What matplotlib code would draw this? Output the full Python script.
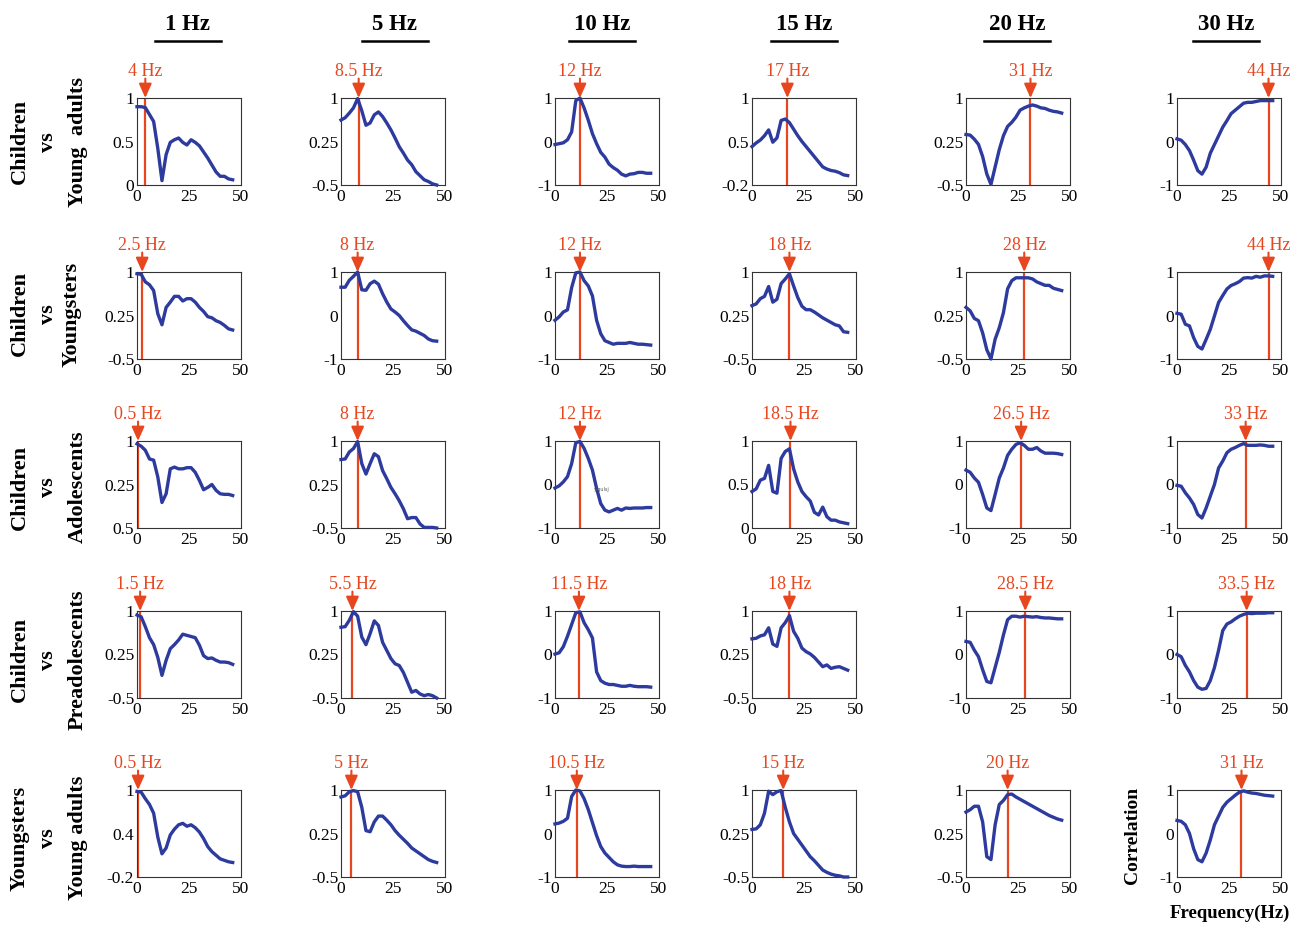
import numpy as np
import matplotlib.pyplot as plt
from matplotlib.lines import Line2D

plt.rcParams['font.family'] = 'Liberation Serif'

# frequencies (Hz) at which the correlation curves were read
freq = np.arange(0, 48, 2)

bands = ['1 Hz', '5 Hz', '10 Hz', '15 Hz', '20 Hz', '30 Hz']
pairs = [('Children', 'vs', 'Young  adults'),
         ('Children', 'vs', 'Youngsters'),
         ('Children', 'vs', 'Adolescents'),
         ('Children', 'vs', 'Preadolescents'),
         ('Youngsters', 'vs', 'Young adults')]

# frequency of best correlation, one list per row
peaks = [[4, 8.5, 12, 17, 31, 44],
         [2.5, 8, 12, 18, 28, 44],
         [0.5, 8, 12, 18.5, 26.5, 33],
         [1.5, 5.5, 11.5, 18, 28.5, 33.5],
         [0.5, 5, 10.5, 15, 20, 31]]

# lower y limit and tick labels (bottom, middle) per panel, top is always 1
ylow = [[0, -0.5, -1, -0.2, -0.5, -1],
        [-0.5, -1, -1, -0.5, -0.5, -1],
        [-0.5, -0.5, -1, 0, -1, -1],
        [-0.5, -0.5, -1, -0.5, -1, -1],
        [-0.2, -0.5, -1, -0.5, -0.5, -1]]
ylab_lo = [['0', '-0.5', '-1', '-0.2', '-0.5', '-1'],
           ['-0.5', '-1', '-1', '-0.5', '-0.5', '-1'],
           ['0.5', '-0.5', '-1', '0', '-1', '-1'],
           ['-0.5', '-0.5', '-1', '-0.5', '-1', '-1'],
           ['-0.2', '-0.5', '-1', '-0.5', '-0.5', '-1']]
ylab_mid = [['0.5', '0.25', '0', '0.5', '0.25', '0'],
            ['0.25', '0', '0', '0.25', '0.25', '0'],
            ['0.25', '0.25', '0', '0.5', '0', '0'],
            ['0.25', '0.25', '0', '0.25', '0', '0'],
            ['0.4', '0.25', '0', '0.25', '0.25', '0']]

# correlation curves, row by row (columns 1..30 Hz band)
row1 = [
    [0.90, 0.90, 0.89, 0.81, 0.73, 0.42, 0.05, 0.35, 0.49, 0.52, 0.54, 0.49, 0.46, 0.52, 0.49, 0.45, 0.38, 0.31, 0.23, 0.15, 0.10, 0.10, 0.07, 0.06],
    [0.62, 0.66, 0.74, 0.83, 0.99, 0.78, 0.53, 0.57, 0.71, 0.76, 0.68, 0.57, 0.45, 0.31, 0.16, 0.05, -0.07, -0.15, -0.27, -0.34, -0.41, -0.44, -0.48, -0.50],
    [-0.07, -0.05, -0.03, 0.04, 0.22, 0.94, 1.00, 0.77, 0.49, 0.18, -0.05, -0.25, -0.36, -0.52, -0.60, -0.66, -0.75, -0.79, -0.75, -0.74, -0.71, -0.71, -0.73, -0.73],
    [0.33, 0.38, 0.42, 0.48, 0.56, 0.39, 0.45, 0.69, 0.71, 0.66, 0.57, 0.48, 0.40, 0.33, 0.26, 0.19, 0.12, 0.05, 0.02, 0.00, -0.01, -0.03, -0.06, -0.07],
    [0.37, 0.36, 0.29, 0.20, -0.01, -0.31, -0.49, -0.19, 0.11, 0.35, 0.51, 0.58, 0.67, 0.79, 0.83, 0.86, 0.88, 0.86, 0.83, 0.82, 0.79, 0.77, 0.76, 0.74],
    [0.06, 0.03, -0.07, -0.21, -0.43, -0.67, -0.75, -0.59, -0.27, -0.07, 0.13, 0.33, 0.48, 0.64, 0.72, 0.80, 0.88, 0.90, 0.90, 0.92, 0.94, 0.94, 0.94, 0.94]]
row2 = [
    [0.97, 0.96, 0.83, 0.78, 0.68, 0.28, 0.09, 0.39, 0.48, 0.58, 0.58, 0.50, 0.54, 0.54, 0.48, 0.39, 0.32, 0.23, 0.21, 0.16, 0.13, 0.08, 0.02, 0.00],
    [0.65, 0.65, 0.81, 0.90, 1.00, 0.59, 0.58, 0.73, 0.79, 0.72, 0.50, 0.31, 0.15, 0.08, 0.00, -0.12, -0.23, -0.33, -0.36, -0.41, -0.46, -0.54, -0.58, -0.59],
    [-0.11, -0.03, 0.08, 0.13, 0.64, 0.98, 1.00, 0.80, 0.68, 0.45, -0.11, -0.42, -0.58, -0.62, -0.66, -0.64, -0.64, -0.64, -0.62, -0.64, -0.66, -0.66, -0.67, -0.68],
    [0.42, 0.45, 0.54, 0.58, 0.75, 0.48, 0.53, 0.80, 0.88, 0.97, 0.76, 0.56, 0.41, 0.35, 0.35, 0.31, 0.26, 0.21, 0.17, 0.13, 0.09, 0.07, -0.03, -0.04],
    [0.39, 0.33, 0.20, 0.16, -0.05, -0.34, -0.50, -0.16, 0.04, 0.30, 0.71, 0.85, 0.90, 0.90, 0.90, 0.90, 0.88, 0.83, 0.80, 0.77, 0.77, 0.72, 0.70, 0.68],
    [0.05, 0.03, -0.20, -0.24, -0.51, -0.71, -0.77, -0.55, -0.32, -0.01, 0.30, 0.46, 0.61, 0.69, 0.73, 0.78, 0.86, 0.87, 0.86, 0.90, 0.88, 0.91, 0.91, 0.90]]
row3 = [
    [0.95, 0.91, 0.84, 0.69, 0.67, 0.38, -0.06, 0.09, 0.52, 0.55, 0.52, 0.52, 0.54, 0.54, 0.46, 0.32, 0.16, 0.20, 0.25, 0.15, 0.09, 0.08, 0.08, 0.06],
    [0.68, 0.69, 0.81, 0.87, 0.99, 0.61, 0.43, 0.61, 0.78, 0.73, 0.49, 0.35, 0.20, 0.09, -0.03, -0.17, -0.34, -0.32, -0.32, -0.43, -0.49, -0.49, -0.49, -0.50],
    [-0.08, -0.03, 0.06, 0.18, 0.48, 0.96, 0.99, 0.83, 0.60, 0.33, -0.09, -0.44, -0.59, -0.63, -0.59, -0.55, -0.59, -0.54, -0.55, -0.54, -0.54, -0.54, -0.53, -0.53],
    [0.42, 0.45, 0.55, 0.57, 0.72, 0.42, 0.40, 0.80, 0.88, 0.91, 0.68, 0.53, 0.42, 0.36, 0.31, 0.18, 0.15, 0.24, 0.13, 0.09, 0.09, 0.07, 0.06, 0.05],
    [0.33, 0.28, 0.15, 0.05, -0.23, -0.54, -0.60, -0.23, 0.15, 0.38, 0.67, 0.81, 0.92, 0.96, 0.90, 0.81, 0.81, 0.85, 0.77, 0.72, 0.72, 0.72, 0.71, 0.69],
    [-0.02, -0.04, -0.19, -0.31, -0.46, -0.69, -0.77, -0.54, -0.27, 0.00, 0.38, 0.54, 0.73, 0.81, 0.85, 0.90, 0.94, 0.90, 0.90, 0.90, 0.91, 0.90, 0.88, 0.88]]
row4 = [
    [0.93, 0.90, 0.73, 0.54, 0.42, 0.20, -0.11, 0.15, 0.35, 0.42, 0.50, 0.60, 0.58, 0.56, 0.54, 0.41, 0.23, 0.18, 0.19, 0.15, 0.12, 0.12, 0.11, 0.08],
    [0.72, 0.73, 0.84, 0.99, 0.91, 0.55, 0.42, 0.61, 0.83, 0.75, 0.46, 0.32, 0.18, 0.09, 0.06, -0.06, -0.23, -0.40, -0.37, -0.43, -0.46, -0.44, -0.46, -0.50],
    [0.01, 0.04, 0.18, 0.42, 0.69, 0.96, 0.98, 0.73, 0.57, 0.38, -0.40, -0.60, -0.66, -0.69, -0.69, -0.71, -0.73, -0.73, -0.71, -0.73, -0.74, -0.74, -0.74, -0.75],
    [0.52, 0.53, 0.57, 0.59, 0.71, 0.43, 0.39, 0.71, 0.80, 0.92, 0.65, 0.53, 0.36, 0.30, 0.26, 0.20, 0.12, 0.04, 0.07, 0.01, 0.03, 0.04, 0.01, -0.02],
    [0.30, 0.28, 0.10, -0.05, -0.35, -0.62, -0.65, -0.30, 0.05, 0.45, 0.80, 0.88, 0.88, 0.86, 0.88, 0.87, 0.86, 0.87, 0.85, 0.84, 0.84, 0.83, 0.82, 0.82],
    [0.00, -0.05, -0.25, -0.40, -0.60, -0.75, -0.80, -0.78, -0.60, -0.30, 0.10, 0.55, 0.70, 0.75, 0.82, 0.88, 0.92, 0.95, 0.94, 0.95, 0.95, 0.95, 0.96, 0.96]]
row5 = [
    [0.98, 0.97, 0.88, 0.80, 0.68, 0.35, 0.12, 0.20, 0.38, 0.46, 0.52, 0.54, 0.50, 0.52, 0.48, 0.42, 0.33, 0.22, 0.15, 0.10, 0.05, 0.03, 0.01, 0.00],
    [0.88, 0.90, 0.97, 0.99, 0.97, 0.70, 0.30, 0.28, 0.45, 0.55, 0.55, 0.48, 0.40, 0.30, 0.22, 0.15, 0.08, 0.00, -0.05, -0.10, -0.15, -0.20, -0.23, -0.25],
    [0.22, 0.24, 0.28, 0.35, 0.85, 1.00, 0.98, 0.80, 0.55, 0.25, -0.05, -0.30, -0.45, -0.55, -0.65, -0.72, -0.75, -0.76, -0.76, -0.75, -0.76, -0.76, -0.76, -0.76],
    [0.32, 0.33, 0.40, 0.60, 0.98, 0.92, 0.97, 0.99, 0.70, 0.45, 0.25, 0.15, 0.05, -0.05, -0.15, -0.22, -0.30, -0.38, -0.42, -0.45, -0.47, -0.48, -0.50, -0.50],
    [0.62, 0.66, 0.72, 0.72, 0.45, -0.15, -0.20, 0.40, 0.75, 0.82, 0.92, 0.93, 0.88, 0.84, 0.80, 0.76, 0.72, 0.68, 0.64, 0.60, 0.56, 0.53, 0.50, 0.48],
    [0.30, 0.28, 0.20, 0.00, -0.35, -0.60, -0.65, -0.45, -0.15, 0.20, 0.40, 0.60, 0.72, 0.80, 0.88, 0.95, 0.98, 0.95, 0.93, 0.92, 0.90, 0.88, 0.87, 0.86]]
curves = [row1, row2, row3, row4, row5]

blue = '#2d3a9e'
red = '#e8461f'

W, H = 1305, 925
fig = plt.figure(figsize=(W / 100, H / 100), dpi=100)

# panel layout in pixels
col_left = [137, 341, 555, 752, 966, 1177]
row_top = [98, 272, 441, 611, 790]
pw, ph = 104, 87

for i in range(5):
    for j in range(6):
        ax = fig.add_axes([col_left[j] / W, 1 - (row_top[i] + ph) / H, pw / W, ph / H])
        lo = ylow[i][j]
        ax.plot(freq, curves[i][j], color=blue, lw=2.4, clip_on=False, zorder=3)
        p = peaks[i][j]
        ax.axvline(p, color=red, lw=1.6, zorder=2)
        ax.annotate('', xy=(p, 1), xycoords=('data', 'axes fraction'),
                    xytext=(0, 14), textcoords='offset points',
                    arrowprops=dict(arrowstyle='-|>,head_length=0.85,head_width=0.38',
                                    color=red, lw=1.5, shrinkA=0, shrinkB=0),
                    annotation_clip=False)
        ax.annotate('%g Hz' % p, xy=(p, 1), xycoords=('data', 'axes fraction'),
                    xytext=(0, 16), textcoords='offset points', ha='center',
                    va='baseline', color=red, fontsize=13, annotation_clip=False)
        ax.set_xlim(0, 50)
        ax.set_ylim(lo, 1)
        ax.set_xticks([0, 25, 50])
        ax.set_yticks([lo, (lo + 1) / 2, 1])
        ax.set_yticklabels([ylab_lo[i][j], ylab_mid[i][j], '1'])
        ax.tick_params(length=0, labelsize=12.5)
        ax.tick_params(axis='x', pad=3)
        ax.tick_params(axis='y', pad=2)
        for s in ax.spines.values():
            s.set_linewidth(0.8)
            s.set_color('#333333')

# column headers
head_x = [188, 395, 602, 804, 1017, 1226]
for cx, b in zip(head_x, bands):
    fig.text(cx / W, 1 - 24 / H, b, ha='center', va='center', fontsize=16.5, weight='bold')
    fig.add_artist(Line2D([(cx - 33) / W, (cx + 33) / W], [1 - 41 / H, 1 - 41 / H],
                          transform=fig.transFigure, color='black', lw=1.8))

# row labels
lab_y = [142, 314, 487, 660, 838]
lab_x = [20, 48, 78]
for i, names in enumerate(pairs):
    for k, t in enumerate(names):
        x = lab_x[k]
        if i == 1 and k == 2:
            x = 72
        fig.text(x / W, 1 - lab_y[i] / H, t, rotation=90, ha='center', va='center',
                 fontsize=16, weight='bold')

fig.text(1133 / W, 1 - 835 / H, 'Correlation', rotation=90, ha='center', va='center',
         fontsize=14, weight='bold')
fig.text(1230 / W, 1 - 913 / H, 'Frequency(Hz)', ha='center', va='center',
         fontsize=13.5, weight='bold')
fig.text(602 / W, 1 - 490 / H, 'ylqulsj', fontsize=3.5, color='#555555',
         family='DejaVu Sans', ha='center', va='center')

fig.savefig('out.png', dpi=100)
